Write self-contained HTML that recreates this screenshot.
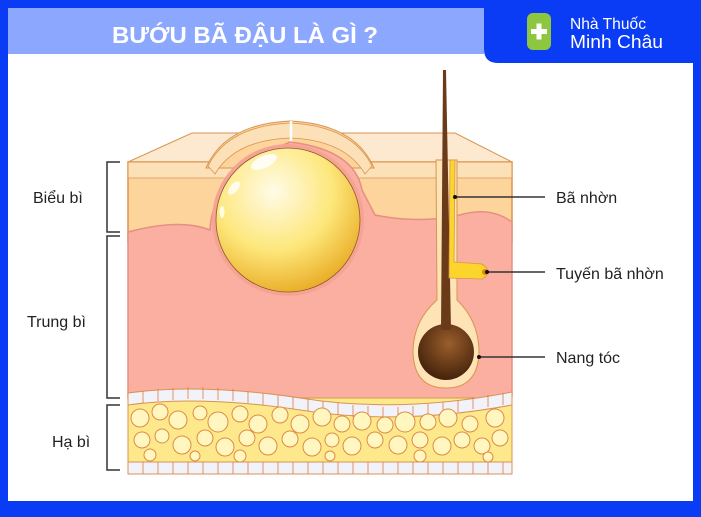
<!DOCTYPE html>
<html><head><meta charset="utf-8"><style>
body{margin:0;width:701px;height:512px;overflow:hidden;background:#0a3cf5;font-family:"Liberation Sans",sans-serif}
</style></head><body>
<svg width="701" height="512" viewBox="0 0 701 512" xmlns="http://www.w3.org/2000/svg" font-family="Liberation Sans, DejaVu Sans, sans-serif">
<rect x="0" y="0" width="701" height="512" fill="#0a3cf5"/>
<rect x="8" y="8" width="685" height="493" fill="#fff"/>
<rect x="8" y="8" width="476" height="46" fill="#8ca8fe"/>
<text x="112" y="43" font-size="23" font-weight="bold" fill="#fff" textLength="266" lengthAdjust="spacingAndGlyphs">BƯỚU BÃ ĐẬU LÀ GÌ ?</text>
<path d="M484 0H701V63H498Q484 63 484 49Z" fill="#0a3cf5"/>
<rect x="527" y="13" width="24" height="37" rx="6" fill="#8dc63f"/>
<path d="M531 31.5h16M539 23.5v16" stroke="#fff" stroke-width="5"/>
<text x="570" y="29" font-size="16" fill="#fff" textLength="76" lengthAdjust="spacingAndGlyphs">Nhà Thuốc</text>
<text x="570" y="48" font-size="18" fill="#fff" textLength="93" lengthAdjust="spacingAndGlyphs">Minh Châu</text>

<defs><radialGradient id="g" cx="0.4" cy="0.3" r="0.75"><stop offset="0" stop-color="#fffbe8"/><stop offset="0.55" stop-color="#fde77a"/><stop offset="1" stop-color="#e8a820"/></radialGradient>
<radialGradient id="h" cx="0.55" cy="0.35" r="0.7"><stop offset="0" stop-color="#9a5e2c"/><stop offset="1" stop-color="#3e1e08"/></radialGradient></defs>

<path d="M128 162L192 133H455L512 162Z" fill="#fce9d0" stroke="#d9944f"/>
<rect x="128" y="162" width="384" height="80" fill="#fcd49c" stroke="#d9944f" stroke-width="1.5"/>
<rect x="128.5" y="162.5" width="383" height="16" fill="#fce0b8"/>
<line x1="128" y1="178" x2="512" y2="178" stroke="#d9944f" stroke-width="0.8"/>
<path d="M206 168Q225 124 290 121Q355 124 374 168Z" fill="#fcd49c" stroke="#d9944f"/>
<path d="M208 166Q228 126 290 123Q352 126 372 166L365 174Q345 140 290 138Q235 140 215 174Z" fill="#fce0b8" stroke="#d9944f" stroke-width="0.8"/>
<line x1="291" y1="121" x2="291" y2="146" stroke="#fff" stroke-width="2.5"/>
<path d="M128 232Q180 218 210 230Q212 175 290 142Q355 150 362 190L375 215Q420 224 460 215Q490 206 512 222V396Q400 412 300 398Q200 384 128 398Z" fill="#faafa0" stroke="#e59080" stroke-width="1.5"/>
<rect x="128" y="398" width="384" height="64" fill="#fde98c" stroke="#d9944f"/>
<path d="M128 393Q200 383 300 398Q400 414 512 392V405Q400 426 300 410Q200 395 128 405Z" fill="#f2f2fb" stroke="#d9944f"/>
<rect x="128" y="462" width="384" height="12" fill="#f2f2fb" stroke="#d9944f"/>
<g stroke="#e07a3c" stroke-width="0.8">
<path d="M143 462v12M158 462v12M173 462v12M188 462v12M203 462v12M218 462v12M233 462v12M248 462v12M263 462v12M278 462v12M293 462v12M308 462v12M323 462v12M338 462v12M353 462v12M368 462v12M383 462v12M398 462v12M413 462v12M428 462v12M443 462v12M458 462v12M473 462v12M488 462v12M503 462v12"/>
<path d="M143 391v12M158 389v12M173 388v12M188 387v12M203 387v12M218 388v12M233 389v12M248 391v12M263 393v12M278 395v12M293 397v12M308 399v12M323 401v12M338 403v12M353 405v12M368 406v12M383 407v12M398 407v12M413 406v12M428 404v12M443 402v12M458 400v12M473 397v12M488 395v12M503 393v12"/>
</g>
<g fill="#fff6c0" stroke="#e08a40" stroke-width="1">
<circle cx="140" cy="418" r="9"/><circle cx="160" cy="412" r="8"/><circle cx="178" cy="420" r="9"/><circle cx="200" cy="413" r="7"/><circle cx="218" cy="422" r="10"/><circle cx="240" cy="414" r="8"/><circle cx="258" cy="424" r="9"/><circle cx="280" cy="415" r="8"/><circle cx="300" cy="424" r="9"/><circle cx="322" cy="417" r="9"/><circle cx="342" cy="424" r="8"/><circle cx="362" cy="421" r="9"/><circle cx="385" cy="425" r="8"/><circle cx="405" cy="422" r="10"/><circle cx="428" cy="422" r="8"/><circle cx="448" cy="418" r="9"/><circle cx="470" cy="424" r="8"/><circle cx="495" cy="418" r="9"/>
<circle cx="142" cy="440" r="8"/><circle cx="162" cy="436" r="7"/><circle cx="182" cy="445" r="9"/><circle cx="205" cy="438" r="8"/><circle cx="225" cy="447" r="9"/><circle cx="247" cy="438" r="8"/><circle cx="268" cy="446" r="9"/><circle cx="290" cy="439" r="8"/><circle cx="312" cy="447" r="9"/><circle cx="332" cy="440" r="7"/><circle cx="352" cy="446" r="9"/><circle cx="375" cy="440" r="8"/><circle cx="398" cy="445" r="9"/><circle cx="420" cy="440" r="8"/><circle cx="442" cy="446" r="9"/><circle cx="462" cy="440" r="8"/><circle cx="482" cy="446" r="8"/><circle cx="500" cy="438" r="8"/>
<circle cx="150" cy="455" r="6"/><circle cx="195" cy="456" r="5"/><circle cx="240" cy="456" r="6"/><circle cx="330" cy="456" r="5"/><circle cx="420" cy="456" r="6"/><circle cx="488" cy="457" r="5"/>
</g>
<circle cx="288" cy="220" r="76" fill="#f7a394"/>
<circle cx="288" cy="220" r="72" fill="url(#g)" stroke="#8a5a30" stroke-width="0.8"/>
<ellipse cx="264" cy="162" rx="14" ry="6" fill="#fff" opacity="0.85" transform="rotate(-25 264 162)"/>
<ellipse cx="234" cy="188" rx="8" ry="4" fill="#fff" opacity="0.8" transform="rotate(-50 234 188)"/>
<ellipse cx="222" cy="212" rx="2.5" ry="6" fill="#fff" opacity="0.8"/>
<path d="M436 160L437 300Q414 320 413 350Q413 388 446 388Q479 388 479 350Q478 320 457 300L457 160Z" fill="#fde3b5" stroke="#d9944f"/>
<circle cx="446" cy="352" r="28" fill="url(#h)"/>
<path d="M443 70L446 70L451 330L441 330Z" fill="#6b3a18"/>
<path d="M450 160L455 160L454 262L482 264Q494 272 482 279L449 278Z" fill="#fbd52c" stroke="#d9944f" stroke-width="0.8"/>
<circle cx="485" cy="272" r="3" fill="#e08a00"/>
<g stroke="#333" stroke-width="1.5" fill="none">
<path d="M120 162H107V232H120"/><path d="M120 236H107V398H120"/><path d="M120 405H107V470H120"/>
<path d="M455 197H545M487 272H545M479 357H545"/>
</g>
<g fill="#111"><circle cx="455" cy="197" r="2"/><circle cx="487" cy="272" r="2"/><circle cx="479" cy="357" r="2"/></g>
<g font-size="16" fill="#222">
<text x="33" y="203">Biểu bì</text><text x="27" y="327">Trung bì</text><text x="52" y="447">Hạ bì</text>
<text x="556" y="203">Bã nhờn</text><text x="556" y="279">Tuyến bã nhờn</text><text x="556" y="363">Nang tóc</text>
</g>
</svg>
</body></html>
